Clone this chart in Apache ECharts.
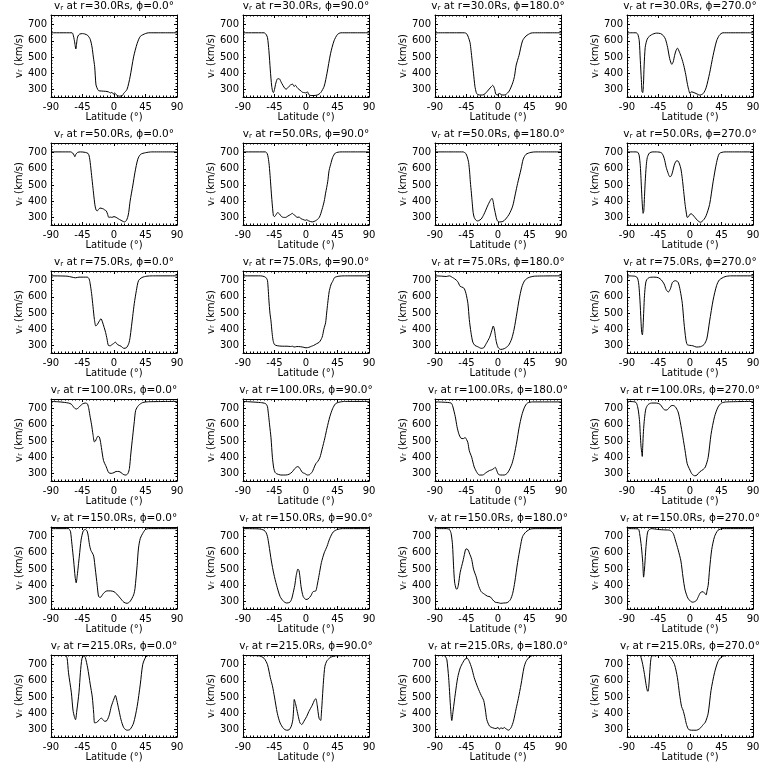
<!DOCTYPE html>
<html>
<head>
<meta charset="utf-8">
<script src="https://cdn.jsdelivr.net/npm/echarts@6/dist/echarts.min.js"></script>
<style>html,body{margin:0;padding:0;background:#fff}#c{width:768px;height:768px}</style>
</head>
<body>
<div id="c"></div>
<script>
const radii = [30, 50, 75, 100, 150, 215];
const phis = [0, 90, 180, 270];
const vTicks = [300, 400, 500, 600, 700];
const vMinorTicks = [260, 280, 320, 340, 360, 380, 420, 440, 460, 480, 520, 540, 560, 580, 620, 640, 660, 680, 720, 740, 760];

const r30_p0 = [[-90,650],[-60,650],[-58.5,640],[-56.5,600],[-54.5,550],[-53,600],[-51.5,630],[-49,642],[-45,645],[-42,643],[-37.6,634],[-34,610],[-31.4,562],[-29.5,500],[-27.6,440],[-25.7,327],[-23.3,300],[-22,292],[-18,290],[-12,288],[-8,285],[-5,278],[-3,282],[-1,272],[1,278],[3,268],[5,262],[8,258],[12,262],[13.8,275],[18.6,300],[23,378],[28,501],[33,583],[37.6,628],[44.8,645],[49.5,650],[90,650]];
const r30_p90 = [[-90,650],[-60,650],[-57,640],[-55,620],[-53,540],[-51,420],[-49,320],[-47.5,285],[-46.5,280],[-45,300],[-43,340],[-40.5,366],[-38,365],[-35.5,345],[-33,325],[-30,305],[-28,302],[-26,310],[-22,328],[-19,332],[-17,318],[-15,325],[-12.5,310],[-10,300],[-7,290],[-5,282],[-2,280],[0,278],[2,285],[4,268],[7,262],[10,262],[16,265],[21,280],[26,320],[30,400],[35,520],[40,600],[45,640],[50,650],[90,650]];
const r30_p180 = [[-90,650],[-48,650],[-45,645],[-43,630],[-40,590],[-38.5,540],[-37,480],[-35,400],[-33,320],[-31,280],[-29,268],[-24,265],[-20,268],[-15,290],[-10,315],[-7.5,325],[-5,305],[-3,270],[0,265],[2,278],[3.5,270],[7,265],[11,268],[16,290],[21,340],[23.5,380],[26,450],[30,510],[35,600],[40,630],[47,648],[52,650],[90,650]];
const r30_p270 = [[-90,650],[-77,650],[-74.5,640],[-72.5,600],[-71,480],[-69.5,360],[-68.5,285],[-67.5,280],[-66.5,330],[-65.5,450],[-64,560],[-62,600],[-60,620],[-55,638],[-48,648],[-42,645],[-38,632],[-35,610],[-32,560],[-29,490],[-26,455],[-24,470],[-22,510],[-20,540],[-18,555],[-15,530],[-12,495],[-9,450],[-6,390],[-4,340],[-2,300],[0,275],[2,285],[7,278],[14,265],[19,275],[23,310],[28,400],[33,510],[38,600],[42,635],[47,650],[90,650]];

const r50_p0 = [[-90,705],[-62,705],[-59,698],[-57,685],[-56,675],[-54.5,690],[-52,702],[-48,705],[-41,702],[-37,695],[-35.5,680],[-34,640],[-32,560],[-30,480],[-28.5,420],[-27,370],[-25.5,345],[-24,340],[-22,350],[-20,358],[-17,355],[-15,352],[-13,345],[-11,340],[-9,318],[-7.5,300],[-5,302],[-3,300],[0,305],[3,300],[6,292],[10,282],[13,275],[15,272],[17.6,280],[19.5,300],[21,330],[23,400],[27,500],[30,580],[34,660],[38,690],[45,700],[54,705],[90,705]];
const r50_p90 = [[-90,705],[-58,705],[-55.5,695],[-54,670],[-52.5,620],[-51,540],[-49.5,450],[-48,370],[-46.5,310],[-45,305],[-43,315],[-40.5,330],[-38,322],[-35,305],[-32,300],[-29,300],[-26,308],[-22,318],[-19.5,325],[-17,315],[-15,310],[-13,300],[-10,302],[-7,292],[-3,285],[-1,282],[1,285],[4,278],[9,272],[14,280],[19,300],[23,350],[26,400],[28,450],[31,520],[33,590],[36,640],[38,670],[42,698],[50,705],[90,705]];
const r50_p180 = [[-90,705],[-50,705],[-46,695],[-44,675],[-42,640],[-40.5,580],[-39.5,520],[-38,450],[-37,400],[-35.5,330],[-34,300],[-32,285],[-29.5,278],[-27.6,280],[-24,290],[-20,320],[-15,370],[-11,405],[-8.5,418],[-7,400],[-5.5,360],[-4,330],[-2.5,300],[-1,280],[2,272],[7,275],[11,290],[16,320],[21,370],[25,450],[28,510],[33,600],[36,660],[40,690],[47,702],[54,705],[90,705]];
const r50_p270 = [[-90,705],[-77,705],[-74,700],[-72.5,680],[-71,620],[-70,540],[-69,450],[-68,370],[-67,325],[-66,340],[-65,430],[-64,520],[-62.5,620],[-61,670],[-58,698],[-53,705],[-48,705],[-41,700],[-38,680],[-36,650],[-34,610],[-31,570],[-29,552],[-27,555],[-25,580],[-22,630],[-19,650],[-17,648],[-15,630],[-13,600],[-11,540],[-9,460],[-7,380],[-5,320],[-4,300],[-2,305],[0,320],[2,322],[4,315],[7,300],[11,280],[15,270],[19.5,285],[23,310],[28,380],[33,520],[38,640],[42,695],[50,705],[90,705]];

const r75_p0 = [[-90,730],[-67,728],[-60,722],[-55,718],[-50,722],[-38,722],[-35.5,710],[-34,680],[-32,620],[-30,540],[-28,460],[-26,420],[-24,428],[-21,450],[-18.6,465],[-16.5,445],[-14,410],[-12,380],[-10,340],[-8,300],[-5,298],[-3,305],[-1,310],[2,320],[5,305],[10,295],[14,282],[17.6,285],[21,310],[23,350],[26.7,480],[29,560],[32,640],[35,700],[40,720],[47,728],[55,730],[90,730]];
const r75_p90 = [[-90,730],[-65,730],[-60,726],[-58,722],[-56,712],[-55,700],[-54,650],[-53,580],[-51.5,500],[-50,450],[-48.5,380],[-47,330],[-45,305],[-41,298],[-34,295],[-27,295],[-22,293],[-19.5,295],[-17,290],[-13,293],[-8,292],[-3,288],[0,285],[4,288],[8,295],[11,300],[15,310],[19,320],[23,350],[25.5,400],[28,440],[29.5,500],[31,560],[33,630],[34,650],[36,680],[38,695],[41,720],[47,728],[55,730],[90,730]];
const r75_p180 = [[-90,730],[-80,728],[-74,726],[-69.5,730],[-65,720],[-62,712],[-57.6,695],[-54,665],[-50,658],[-48,650],[-45.7,620],[-43,560],[-41,460],[-38.6,380],[-36,320],[-33,300],[-29,292],[-24,282],[-20.5,285],[-17,310],[-12,350],[-9,390],[-6.7,420],[-5,395],[-3.5,350],[-2,315],[0.5,285],[4,275],[9,280],[15,300],[19.5,340],[23,400],[27,500],[30,580],[34,660],[38,700],[43,718],[52,728],[90,730]];
const r75_p270 = [[-90,730],[-79,728],[-76,722],[-74.5,710],[-73,670],[-71.5,580],[-70,450],[-69,380],[-68,365],[-67,420],[-66,520],[-65,610],[-63.5,680],[-62,705],[-58,720],[-50,722],[-45,718],[-41,705],[-37,680],[-34,645],[-31,630],[-28,650],[-25,690],[-21,700],[-17,690],[-14,640],[-11,560],[-8.6,440],[-6,340],[-4,305],[0,300],[4,298],[9,290],[15,292],[20,305],[24,340],[28,450],[33,580],[38,670],[42,705],[50,725],[58,730],[90,730]];

const r100_p0 = [[-90,745],[-77,742],[-65,735],[-61,728],[-58,712],[-56,702],[-53.5,698],[-51,705],[-48,718],[-45,730],[-41,735],[-38,730],[-36,700],[-34.5,660],[-32,600],[-30,540],[-28,495],[-26.5,500],[-25,515],[-23,530],[-21,525],[-19.5,500],[-18,460],[-15,380],[-11,340],[-7.6,305],[-4,300],[0,305],[3,312],[7,312],[10,305],[14,292],[17,290],[20,300],[22,330],[24,420],[26.7,530],[29,620],[31,690],[35,720],[41,738],[49.5,743],[90,745]];
const r100_p90 = [[-90,745],[-65,738],[-58,732],[-56,722],[-55,712],[-53.5,660],[-52,600],[-50,520],[-48,400],[-46,330],[-44,305],[-42,298],[-36,290],[-29,290],[-24,295],[-19.5,310],[-16,330],[-12,342],[-10,338],[-8,325],[-5,305],[-2,300],[2,290],[5,292],[7,300],[9,310],[11,330],[14,360],[17,375],[20,400],[23,450],[27,520],[30,580],[34,650],[38,700],[42,730],[47,740],[55,745],[90,745]];
const r100_p180 = [[-90,742],[-77,740],[-67,735],[-65,720],[-61,650],[-58.6,590],[-56,545],[-53,518],[-49.5,515],[-47,522],[-45,510],[-43,490],[-41,440],[-37.6,400],[-34,340],[-30,305],[-26.7,290],[-22,290],[-17,305],[-12,318],[-9,322],[-6,330],[-4,338],[-2,320],[0.5,295],[4,290],[9,290],[13,300],[16,320],[20,360],[23,410],[27,500],[30,580],[34,660],[38,710],[42,735],[49.5,742],[90,742]];
const r100_p270 = [[-90,745],[-80,743],[-77,738],[-75,715],[-73.5,680],[-72,620],[-71,540],[-70,470],[-69,430],[-68.2,405],[-67.5,470],[-66.5,560],[-65,640],[-63,700],[-60,725],[-55,735],[-48,735],[-43,728],[-39,705],[-36,692],[-33,692],[-30,705],[-27,718],[-24,720],[-21,712],[-17,680],[-14,620],[-10,520],[-7,440],[-4,360],[0,320],[3,295],[7,285],[10,290],[14,310],[19,325],[22,340],[26,400],[30,540],[35,650],[40,710],[45,735],[52,742],[90,745]];

const r150_p0 = [[-90,750],[-65,750],[-63,740],[-62,730],[-60,650],[-57.6,550],[-55.5,450],[-54,415],[-52.5,460],[-51,520],[-49.5,580],[-47,680],[-44,735],[-41,745],[-38.5,735],[-37,710],[-35,650],[-33,615],[-31,600],[-29,580],[-26.7,500],[-24,400],[-22,330],[-19.5,325],[-15,350],[-10,365],[-5,365],[0,360],[4,345],[9,320],[14,295],[18.6,288],[23,300],[28,340],[30,380],[33,520],[35,630],[37.6,690],[41,720],[45,745],[49.5,750],[90,750]];
const r150_p90 = [[-90,750],[-67,748],[-60,740],[-57,725],[-55,700],[-53,650],[-49.5,550],[-46,470],[-42,400],[-37,330],[-32,300],[-27.6,290],[-23,295],[-20.5,315],[-19,340],[-16,400],[-14,460],[-11.5,500],[-10,490],[-8.6,450],[-7,390],[-4,330],[0,312],[3,315],[7,335],[10,360],[14,365],[16,400],[18.6,460],[22,540],[26,600],[30,640],[34,690],[39,730],[45,745],[52,750],[90,750]];
const r150_p180 = [[-90,750],[-74,750],[-69.5,745],[-67,720],[-65,650],[-63.5,520],[-62,420],[-60,380],[-58.6,375],[-56.7,400],[-54,480],[-50,550],[-48,590],[-45.7,625],[-43,620],[-41,600],[-37.6,560],[-35,500],[-31,450],[-28,400],[-24,360],[-19.5,345],[-15,332],[-11,328],[-7.6,310],[-4,295],[0.5,292],[4,288],[8,290],[13,292],[17.6,310],[21,350],[24,420],[28,540],[32,640],[35,700],[40,730],[47,748],[55,750],[90,750]];
const r150_p270 = [[-90,750],[-74,748],[-72,720],[-69.5,640],[-67.5,540],[-66.3,450],[-65,500],[-63.5,600],[-62,680],[-60,735],[-55,750],[-46,745],[-36,742],[-29,740],[-24,720],[-21,680],[-17,620],[-13,550],[-10,450],[-7,370],[-3,320],[1,300],[4,295],[9,305],[12,330],[15,355],[18.6,360],[21,350],[23,340],[24.5,370],[26,400],[28,500],[31,620],[35,700],[40,740],[47,750],[90,750]];

const r215_p0 = [[-90,757],[-69.5,757],[-67,740],[-65,650],[-61,530],[-58.6,420],[-56.7,380],[-55,360],[-53,420],[-50,530],[-48,650],[-45.7,740],[-43,755],[-41,745],[-37.6,680],[-34,580],[-31,500],[-29,400],[-27.6,340],[-24,345],[-21,360],[-18,370],[-16,360],[-13,350],[-10,355],[-6.7,390],[-4,440],[0,490],[2,510],[4,480],[7,420],[10,360],[14,310],[18.6,295],[23,300],[28,340],[33,440],[37.6,580],[41,700],[45,745],[49.5,757],[90,757]];
const r215_p90 = [[-90,757],[-67,755],[-60,740],[-55,700],[-51,620],[-48,570],[-45,500],[-41,400],[-37,340],[-32,305],[-27.6,295],[-24,298],[-21,320],[-18.8,360],[-17.5,440],[-16.8,485],[-15,460],[-13,420],[-11,380],[-8.6,340],[-6,330],[-3,350],[1,380],[4,410],[9,450],[12,480],[14,490],[16,450],[18.6,370],[21,355],[22,400],[23.5,500],[25,600],[27,690],[30,725],[35,745],[42,755],[90,757]];
const r215_p180 = [[-90,757],[-77,757],[-74.5,745],[-73,730],[-70.5,620],[-68,450],[-66,355],[-64,420],[-61,520],[-57.6,620],[-54,680],[-50,715],[-47,735],[-44,740],[-41,720],[-37.6,680],[-34,620],[-29,560],[-24,510],[-20.5,480],[-18,420],[-16,360],[-12,320],[-7.6,310],[-3,305],[0,312],[2,300],[4,310],[7,305],[9,312],[11,305],[15,295],[18.6,310],[22,350],[26,430],[29,490],[33,580],[37,680],[40,720],[45,748],[49.5,757],[90,757]];
const r215_p270 = [[-90,757],[-72,757],[-70,745],[-67.5,700],[-65,640],[-62.5,570],[-61,540],[-60,535],[-59,560],[-57.5,650],[-56,730],[-54,755],[-31,757],[-27,740],[-22,700],[-18,620],[-15,520],[-12,440],[-10,420],[-7.6,380],[-5,330],[-2,300],[2,295],[9,295],[14,305],[19,330],[22,345],[26,400],[30,540],[35,650],[40,720],[45,748],[52,757],[90,757]];

const panels = [
  [r30_p0, r30_p90, r30_p180, r30_p270],
  [r50_p0, r50_p90, r50_p180, r50_p270],
  [r75_p0, r75_p90, r75_p180, r75_p270],
  [r100_p0, r100_p90, r100_p180, r100_p270],
  [r150_p0, r150_p90, r150_p180, r150_p270],
  [r215_p0, r215_p90, r215_p180, r215_p270]
];

const FONT = 'DejaVu Sans';
const W = 126, H = 82, X0 = 51, Y0 = 15, DX = 192, DY = 128;
const YMIN = 253, YMAX = 760;
const black = '#000';
const sub = { fontSize: 7, fontFamily: FONT, color: black, verticalAlign: 'bottom' };

const grid = [], xAxis = [], yAxis = [], series = [], graphic = [];

radii.forEach((r, j) => {
  phis.forEach((p, c) => {
    const i = grid.length;
    const left = X0 + DX * c, top = Y0 + DY * j;
    grid.push({ left: left, top: top, width: W, height: H, containLabel: false });
    const axLine = { show: true, onZero: false, lineStyle: { color: black, width: 1 } };
    const xCommon = {
      gridIndex: i, type: 'value', min: -90, max: 90, interval: 45,
      axisLine: axLine,
      axisTick: { show: true, inside: true, length: 3, lineStyle: { color: black } },
      minorTick: { show: true, splitNumber: 9, length: 1.5, lineStyle: { color: black } },
      splitLine: { show: false }
    };
    xAxis.push(Object.assign({}, xCommon, {
      position: 'bottom',
      axisLabel: { color: black, fontSize: 10, fontFamily: FONT, margin: 5 },
      name: 'Latitude (°)', nameLocation: 'middle', nameGap: 15,
      nameTextStyle: { color: black, fontSize: 10, fontFamily: FONT }
    }));
    xAxis.push(Object.assign({}, xCommon, { position: 'top', axisLabel: { show: false } }));
    const yBase = { gridIndex: i, type: 'value', min: YMIN, max: YMAX, splitLine: { show: false } };
    yAxis.push(Object.assign({}, yBase, {
      position: 'left',
      axisLine: axLine,
      axisTick: { show: true, inside: true, length: 3, customValues: vTicks, lineStyle: { color: black } },
      axisLabel: { color: black, fontSize: 10, fontFamily: FONT, margin: 4, customValues: vTicks },
      name: 'v{s|r} (km/s)', nameLocation: 'middle', nameGap: 22,
      nameTextStyle: { color: black, fontSize: 10, fontFamily: FONT, rich: { s: sub } }
    }));
    yAxis.push(Object.assign({}, yBase, {
      position: 'left', axisLine: { show: false, onZero: false },
      axisTick: { show: true, inside: true, length: 1.5, customValues: vMinorTicks, lineStyle: { color: black } },
      axisLabel: { show: false }
    }));
    yAxis.push(Object.assign({}, yBase, {
      position: 'right', axisLine: axLine,
      axisTick: { show: true, inside: true, length: 3, customValues: vTicks, lineStyle: { color: black } },
      axisLabel: { show: false }
    }));
    yAxis.push(Object.assign({}, yBase, {
      position: 'right', axisLine: { show: false, onZero: false },
      axisTick: { show: true, inside: true, length: 1.5, customValues: vMinorTicks, lineStyle: { color: black } },
      axisLabel: { show: false }
    }));
    series.push({
      type: 'line', xAxisIndex: 2 * i, yAxisIndex: 4 * i,
      data: panels[j][c], showSymbol: false, symbol: 'none', smooth: 0.25,
      lineStyle: { color: black, width: 1 }, clip: true, silent: true
    });
    graphic.push({
      type: 'text', x: left + W / 2, y: top - 3, silent: true,
      style: {
        text: 'v{s|r} at r=' + r.toFixed(1) + 'Rs, ϕ=' + p.toFixed(1) + '°',
        rich: { s: sub },
        fill: black, fontSize: 10.5, fontFamily: FONT,
        align: 'center', verticalAlign: 'bottom'
      }
    });
  });
});

const chart = echarts.init(document.getElementById('c'), null, { renderer: 'canvas' });
chart.setOption({
  backgroundColor: '#fff',
  animation: false,
  grid: grid, xAxis: xAxis, yAxis: yAxis, series: series, graphic: graphic
});
</script>
</body>
</html>
